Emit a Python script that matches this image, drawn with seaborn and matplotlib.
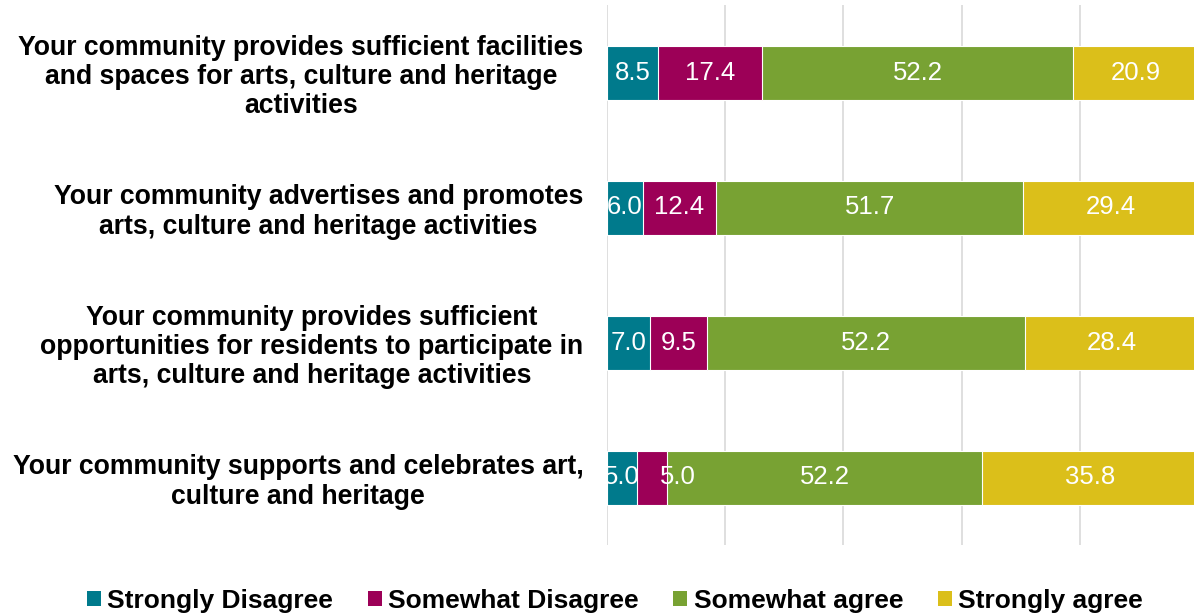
import matplotlib
matplotlib.use("Agg")
import matplotlib.pyplot as plt
from matplotlib.patches import Patch
import numpy as np
import pandas as pd
import seaborn as sns

statements = [
    "Your community provides sufficient facilities\nand spaces for arts, culture and heritage\nactivities",
    "Your community advertises and promotes\narts, culture and heritage activities",
    "Your community provides sufficient\nopportunities for residents to participate in\narts, culture and heritage activities",
    "Your community supports and celebrates art,\nculture and heritage",
]
responses = ["Strongly Disagree", "Somewhat Disagree", "Somewhat agree", "Strongly agree"]
strongly_disagree = [8.5, 6.0, 7.0, 5.0]
somewhat_disagree = [17.4, 12.4, 9.5, 5.0]
somewhat_agree = [52.2, 51.7, 52.2, 52.2]
strongly_agree = [20.9, 29.4, 28.4, 35.8]
colors = ["#007A8C", "#9C0057", "#78A233", "#DBBF1A"]

sns.set_theme(style="white")
plt.rcParams["font.family"] = ["Liberation Sans", "DejaVu Sans"]
plt.rcParams["text.color"] = "black"
plt.rcParams["ytick.color"] = "black"

values = np.array([strongly_disagree, somewhat_disagree, somewhat_agree, strongly_agree])
# 100% stacked: each statement's responses fill the full width
shares = values / values.sum(axis=0) * 100
cum = shares.cumsum(axis=0)

fig = plt.figure(figsize=(11.94, 6.15), dpi=100)
ax = fig.add_axes([607 / 1194, 70 / 615, 591 / 1194, 540 / 615])

# stacked bars: draw cumulative totals from the outermost segment inwards
for i in range(len(responses) - 1, -1, -1):
    df = pd.DataFrame({"statement": statements, "total": cum[i]})
    sns.barplot(data=df, x="total", y="statement", order=statements,
                color=colors[i], saturation=1, width=0.4, orient="h",
                edgecolor="white", linewidth=0.8, ax=ax, zorder=3)

# value labels centred in each segment; a narrow segment that follows another
# narrow one gets its label nudged right so the two don't collide
for i in range(len(responses)):
    for j in range(len(statements)):
        x = cum[i, j] - shares[i, j] / 2
        if i > 0 and shares[i, j] < 6 and shares[i - 1, j] < 6:
            x += 4.4
        ax.text(x, j, f"{values[i, j]:.1f}", ha="center", va="center",
                color="white", fontsize=18.5, zorder=5, clip_on=True)

ax.set_xlim(0, 100)
ax.set_ylim(3.5, -0.5)
ax.set_xticks([0, 20, 40, 60, 80, 100])
ax.set_xticklabels([])
ax.grid(axis="x", color="#D9D9D9", linewidth=1.2, zorder=0)
ax.grid(axis="y", visible=False)
for s in ax.spines.values():
    s.set_visible(False)
ax.set_xlabel("")
ax.set_ylabel("")
ax.tick_params(axis="both", length=0)
ax.tick_params(axis="y", pad=17)
for lab in ax.get_yticklabels():
    lab.set_fontsize(19.2)
    lab.set_fontweight("bold")
    lab.set_multialignment("center")
    lab.set_linespacing(1.15)
    lab.set_color("black")

handles = [Patch(facecolor=c, edgecolor="none", label=r) for c, r in zip(colors, responses)]
fig.legend(handles=handles, loc="lower center", bbox_to_anchor=(0.515, -0.035), ncol=4,
           frameon=False, handlelength=0.53, handleheight=0.53, handletextpad=0.25,
           columnspacing=1.3, prop={"weight": "bold", "size": 19})

fig.savefig("out.png", dpi=100)
